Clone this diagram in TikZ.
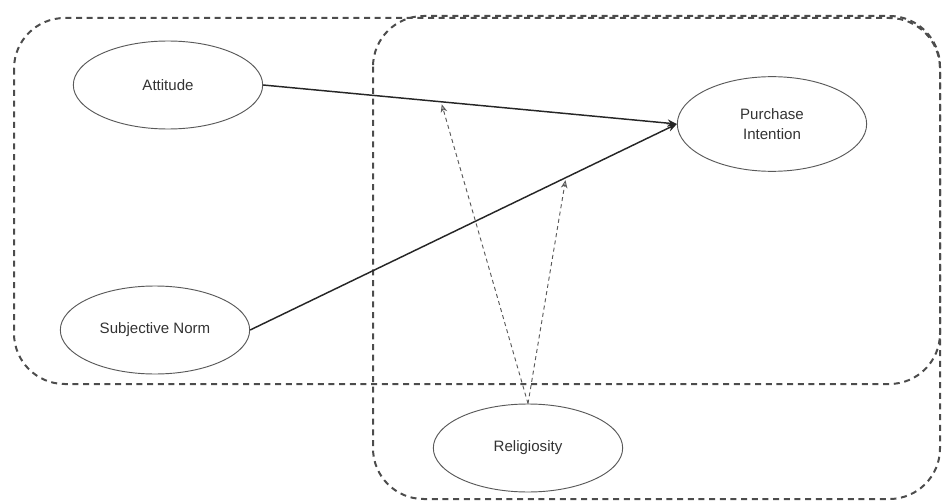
\documentclass[tikz,border=0pt]{standalone}
\usepackage{fontspec}
\setmainfont{Liberation Sans}
\usetikzlibrary{shapes.geometric,arrows.meta}

\begin{document}
\begin{tikzpicture}[x=0.75pt, y=-0.75pt,
    main/.style = {draw=black!65, line width=0.7pt, ellipse, minimum width=142pt, minimum height=66pt, inner sep=0pt, align=center, text=black!80, font=\fontsize{11.3}{15.5}\selectfont},
    group/.style = {draw=black!70, line width=1.5pt, dash pattern=on 4.5pt off 3.5pt, rounded corners=38pt},
    effect/.style = {draw=black!85, line width=1.1pt, -{Stealth[length=7pt,width=5.5pt]}},
    moder/.style = {draw=black!65, line width=0.7pt, dash pattern=on 3pt off 2.5pt, shorten >=2pt, -{Stealth[open,length=6pt,width=5pt]}}]
    \useasboundingbox (0,0) rectangle (943,503);
    \draw[group] (14,18) rectangle (940,384);
    \draw[group] (373,16) rectangle (940,499);
    \node[main] (att) at (168,85) {Attitude};
    \node[main] (sn) at (155,330) {Subjective Norm};
    \node[main, minimum height=71pt] (pi) at (772,124) {Purchase\\Intention};
    \node[main] (rel) at (528,448) {Religiosity};
    \draw[effect] (att.east) -- (pi.west);
    \draw[effect] (sn.east) -- (pi.west);
    \path (att.east) -- (pi.west) coordinate[pos=0.43] (m1);
    \path (sn.east) -- (pi.west) coordinate[pos=0.74] (m2);
    \draw[moder] (rel.north) -- (m1);
    \draw[moder] (rel.north) -- (m2);
\end{tikzpicture}
\end{document}
